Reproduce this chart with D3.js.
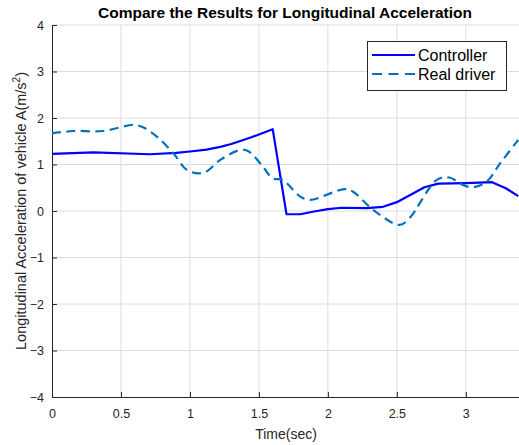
<!DOCTYPE html>
<html><head><meta charset="utf-8">
<script src="https://cdn.jsdelivr.net/npm/d3@7"></script>
<style>body{margin:0;background:#fff;}svg{display:block;font-family:Helvetica,"Liberation Sans",Arial,sans-serif;}</style>
</head><body>
<script>
const xTicks = [0, 0.5, 1, 1.5, 2, 2.5, 3];
const yTicks = [-4, -3, -2, -1, 0, 1, 2, 3, 4];
const controllerT = [0, 0.30, 0.71, 0.9, 1.0, 1.12, 1.22, 1.30, 1.36, 1.45, 1.6, 1.70, 1.80, 1.9, 2.0, 2.10, 2.28, 2.40, 2.50, 2.60, 2.70, 2.80, 3.0, 3.19, 3.29, 3.38];
const controllerV = [1.23, 1.26, 1.22, 1.25, 1.28, 1.32, 1.38, 1.44, 1.50, 1.59, 1.76, -0.07, -0.07, -0.01, 0.04, 0.07, 0.06, 0.09, 0.19, 0.35, 0.51, 0.59, 0.60, 0.62, 0.49, 0.32];
const driverT = [0, 0.15, 0.37, 0.59, 0.66, 0.76, 0.88, 0.98, 1.10, 1.22, 1.36, 1.42, 1.52, 1.60, 1.67, 1.80, 1.87, 2.12, 2.18, 2.33, 2.52, 2.59, 2.79, 2.88, 2.98, 3.05, 3.15, 3.25, 3.38];
const driverV = [1.67, 1.72, 1.72, 1.85, 1.80, 1.60, 1.24, 0.88, 0.82, 1.10, 1.31, 1.29, 0.99, 0.70, 0.67, 0.31, 0.24, 0.47, 0.42, 0.02, -0.30, -0.16, 0.67, 0.72, 0.56, 0.51, 0.63, 1.03, 1.53];
const seriesNames = ["Controller", "Real driver"];

const W = 519, H = 445;
const m = {left: 52, top: 25, right: 521, bottom: 397};
const svg = d3.select("body").append("svg").attr("width", W).attr("height", H);
const x = d3.scaleLinear().domain([0, 3.4]).range([m.left, m.right]);
const y = d3.scaleLinear().domain([-4, 4]).range([m.bottom, m.top]);
const tc = "#262626";

// grid
const g = svg.append("g");
g.selectAll(".gx").data(xTicks.filter(d => d > 0)).join("line")
  .attr("x1", d => x(d)).attr("x2", d => x(d)).attr("y1", m.top).attr("y2", m.bottom)
  .attr("stroke", "#dcdcdc").attr("stroke-width", 1);
g.selectAll(".gy").data(yTicks.filter(d => d > -4)).join("line")
  .attr("x1", m.left).attr("x2", W).attr("y1", d => y(d)).attr("y2", d => y(d))
  .attr("stroke", "#dcdcdc").attr("stroke-width", 1);

// axes
const xAxis = d3.axisBottom(x).tickValues(xTicks).tickFormat(d3.format("")).tickSizeInner(-5).tickSizeOuter(0).tickPadding(12);
const yAxis = d3.axisLeft(y).tickValues(yTicks).tickFormat(d3.format("")).tickSizeInner(-5).tickSizeOuter(0).tickPadding(8);
const gx = svg.append("g").attr("transform", `translate(0,${m.bottom})`).call(xAxis);
const gy = svg.append("g").attr("transform", `translate(${m.left},0)`).call(yAxis);
[gx, gy].forEach(a => {
  a.select(".domain").attr("stroke", tc);
  a.selectAll(".tick line").attr("stroke", tc);
  a.selectAll("text").attr("fill", tc).style("font-size", "12.5px");
});
gx.select(".domain").attr("d", `M${m.left},0.5H${W}`);
gy.select(".domain").attr("d", `M0.5,${m.bottom}V${m.top}`);

// lines
svg.append("clipPath").attr("id", "c").append("rect")
  .attr("x", m.left).attr("y", m.top).attr("width", W - m.left).attr("height", m.bottom - m.top);
const ctrl = controllerT.map((t, i) => [t, controllerV[i]]);
const drv = driverT.map((t, i) => [t, driverV[i]]);
const lineLin = d3.line().x(d => x(d[0])).y(d => y(d[1]));
const lineSmooth = d3.line().x(d => x(d[0])).y(d => y(d[1])).curve(d3.curveCatmullRom.alpha(0.5));
svg.append("path").attr("clip-path", "url(#c)").datum(ctrl).attr("d", lineLin)
  .attr("fill", "none").attr("stroke", "#0000ff").attr("stroke-width", 2.2).attr("stroke-linejoin", "round");
svg.append("path").attr("clip-path", "url(#c)").datum(drv).attr("d", lineSmooth)
  .attr("fill", "none").attr("stroke", "#0072bd").attr("stroke-width", 2.2).attr("stroke-dasharray", "9,5.5");

// title
svg.append("text").attr("x", 285).attr("y", 18).attr("text-anchor", "middle")
  .style("font-size", "15.5px").style("font-weight", "bold").attr("fill", "#000")
  .text("Compare the Results for Longitudinal Acceleration");
// x label
svg.append("text").attr("x", 286).attr("y", 439).attr("text-anchor", "middle")
  .style("font-size", "14px").attr("fill", tc).text("Time(sec)");
// y label
const yl = svg.append("text").attr("transform", `translate(26,${(m.top + m.bottom) / 2}) rotate(-90)`)
  .attr("text-anchor", "middle").style("font-size", "14.5px").attr("fill", tc);
yl.append("tspan").text("Longitudinal Acceleration of vehicle A(m/s");
yl.append("tspan").attr("dy", -6).style("font-size", "10px").text("2");
yl.append("tspan").attr("dy", 6).text(")");

// legend
const lg = svg.append("g");
lg.append("rect").attr("x", 367.5).attr("y", 41.5).attr("width", 139).attr("height", 49)
  .attr("fill", "#fff").attr("stroke", "#262626").attr("stroke-width", 1);
const ly = [55, 74];
const styles = [{c: "#0000ff", d: null}, {c: "#0072bd", d: "10,6.5"}];
seriesNames.forEach((n, i) => {
  lg.append("line").attr("x1", 372).attr("x2", 415).attr("y1", ly[i]).attr("y2", ly[i])
    .attr("stroke", styles[i].c).attr("stroke-width", 2.2).attr("stroke-dasharray", styles[i].d);
  lg.append("text").attr("x", 418).attr("y", ly[i] + 5.5).style("font-size", "16px").attr("fill", "#000").text(n);
});
</script>
</body></html>
